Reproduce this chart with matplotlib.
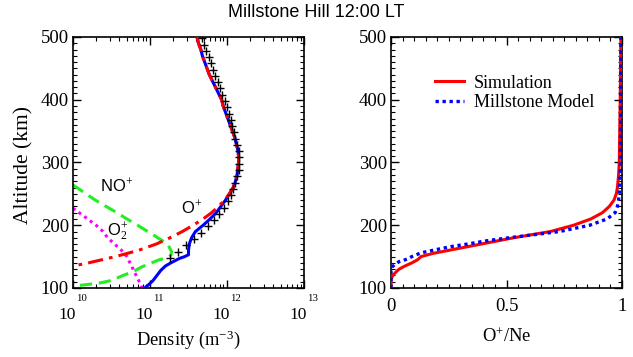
import matplotlib
matplotlib.use("Agg")
import matplotlib.pyplot as plt
import numpy as np
from matplotlib.ticker import FixedLocator, MultipleLocator, LogLocator, NullFormatter

# ---------------- data (log10 densities in m^-3, altitude in km) ----------------
alt_ne = [98, 105, 112, 120, 128, 135, 140, 147, 150, 153, 160, 170, 180, 190, 200, 210, 220,
          230, 240, 250, 260, 270, 280, 290, 300, 310, 320, 330, 340, 350, 360, 370, 380,
          390, 400, 410, 420, 430, 440, 450, 460, 470, 480, 490, 500]
log_ne = [10.91, 10.98, 11.04, 11.09, 11.14, 11.20, 11.27, 11.38, 11.45, 11.50, 11.50, 11.51,
          11.54, 11.59, 11.69, 11.78, 11.86, 11.92, 11.98, 12.03, 12.08, 12.11, 12.13, 12.14,
          12.15, 12.15, 12.14, 12.12, 12.10, 12.07, 12.04, 12.01, 11.98, 11.95, 11.93, 11.89,
          11.85, 11.81, 11.77, 11.74, 11.71, 11.68, 11.66, 11.63, 11.61]

alt_op = [130, 135, 140, 150, 160, 170, 180, 190, 200, 210, 220, 230, 240, 250, 260, 270, 280,
          290, 300, 310, 320, 330, 340, 350, 360, 370, 380, 390, 400, 410, 420, 430, 440, 450,
          460, 470, 480, 490, 500]
log_op = [9.80, 10.00, 10.20, 10.55, 10.85, 11.08, 11.26, 11.42, 11.56, 11.69, 11.80, 11.89,
          11.97, 12.03, 12.08, 12.11, 12.13, 12.14, 12.15, 12.15, 12.14, 12.12, 12.10, 12.07,
          12.04, 12.01, 11.98, 11.95, 11.93, 11.89, 11.85, 11.81, 11.77, 11.74, 11.71, 11.68,
          11.66, 11.63, 11.61]

alt_nop = [98, 103, 105, 108, 112, 120, 126, 134, 140, 145, 148, 152, 158, 165, 171, 180, 185,
           190, 200, 210, 220, 230, 240, 250, 260, 265]
log_nop = [9.85, 10.00, 10.15, 10.35, 10.50, 10.65, 10.78, 10.90, 11.02, 11.12, 11.22, 11.27,
           11.28, 11.25, 11.22, 11.10, 11.04, 10.97, 10.84, 10.70, 10.57, 10.43, 10.29, 10.17,
           10.05, 9.99]

alt_o2p = [99, 110, 120, 130, 140, 150, 160, 170, 180, 190, 200, 210, 220, 228]
log_o2p = [10.90, 10.86, 10.82, 10.78, 10.74, 10.70, 10.63, 10.54, 10.45, 10.39, 10.30, 10.19,
           10.08, 9.99]

alt_obs = [148, 158, 168, 178, 188, 198, 208, 218, 228, 238, 248, 258, 268, 278, 288, 298, 308,
           318, 328, 338, 348, 358, 368, 378, 388, 398, 408, 418, 428, 438, 448, 458, 468, 478,
           488, 498]
log_obs = [11.26, 11.37, 11.47, 11.57, 11.66, 11.75, 11.83, 11.90, 11.96, 12.01, 12.05, 12.08,
           12.11, 12.13, 12.15, 12.16, 12.16, 12.15, 12.13, 12.11, 12.09, 12.07, 12.05, 12.02,
           12.00, 11.97, 11.94, 11.91, 11.88, 11.85, 11.82, 11.79, 11.76, 11.73, 11.70, 11.68]

alt_ratio_sim = [100, 110, 115, 120, 125, 130, 135, 140, 145, 150, 155, 160, 170, 180, 190, 200,
                 210, 220, 230, 240, 250, 260, 280, 300, 350, 400, 500]
ratio_sim = [0.0, 0.0, 0.002, 0.008, 0.02, 0.035, 0.06, 0.09, 0.115, 0.13, 0.18, 0.25, 0.39,
             0.53, 0.69, 0.79, 0.865, 0.915, 0.945, 0.965, 0.975, 0.98, 0.985, 0.988, 0.99,
             0.992, 0.995]

alt_ratio_mod = [100, 120, 130, 133, 137, 142, 146, 150, 156, 160, 166, 170, 175, 180, 185, 190,
                 200, 210, 220, 230, 240, 260, 300, 500]
ratio_mod = [0.0, 0.0, 0.0, 0.003, 0.015, 0.035, 0.07, 0.09, 0.13, 0.18, 0.26, 0.33, 0.41, 0.51,
             0.62, 0.73, 0.86, 0.935, 0.97, 0.98, 0.985, 0.99, 0.993, 0.995]

xtick_exponents_left = [10, 11, 12, 13]
yticks = [100, 200, 300, 400, 500]
xticks_right = [0, 0.5, 1]
xtick_labels_right = ["0", "0.5", "1"]

# ---------------- style ----------------
plt.rcParams["mathtext.fontset"] = "custom"
plt.rcParams["mathtext.rm"] = "Liberation Serif"
plt.rcParams["mathtext.it"] = "Liberation Serif:italic"
serif = "Liberation Serif"
sans = "Liberation Sans"

fig = plt.figure(figsize=(6.33, 3.57), dpi=100)
ax1 = fig.add_axes([0.1153, 0.1933, 0.365, 0.7031])
ax2 = fig.add_axes([0.6177, 0.1933, 0.365, 0.7031])

RED = "#ff0000"
BLUE = "#0000ff"
GREEN = "#22ee22"
MAG = "#ff00ff"

def arr10(v):
    return [10.0 ** x for x in v]

# left panel
ax1.plot(arr10(log_ne), alt_ne, color=BLUE, lw=2.2, zorder=3)
ax1.plot(arr10(log_op), alt_op, color=RED, lw=2.2, ls=(0, (5, 2, 1.2, 2)), zorder=4)
ax1.plot(arr10(log_nop), alt_nop, color=GREEN, lw=2.2, ls=(0, (4, 2.2)), zorder=2)
ax1.plot(arr10(log_o2p), alt_o2p, color=MAG, lw=2.2, ls=(0, (1, 1.3)), zorder=2)
ax1.plot(arr10(log_obs), alt_obs, ls="none", marker="+", ms=6, mew=1.0, color="black", zorder=5)

ax1.set_xscale("log")
ax1.set_xlim(1e10, 1e13)
ax1.set_ylim(100, 500)
ax1.xaxis.set_major_locator(FixedLocator([10.0 ** e for e in xtick_exponents_left]))
ax1.xaxis.set_minor_locator(LogLocator(base=10, subs=np.arange(2, 10)))
ax1.xaxis.set_minor_formatter(NullFormatter())
ax1.xaxis.set_major_formatter(NullFormatter())
# power-of-ten tick labels: big "10" with small raised exponent
for e in xtick_exponents_left:
    ax1.annotate("10", xy=(10.0 ** e, 0), xycoords=("data", "axes fraction"),
                 xytext=(1.8, -13.5), textcoords="offset points", ha="right", va="top",
                 family=serif, fontsize=12.5, annotation_clip=False)
    ax1.annotate(str(e), xy=(10.0 ** e, 0), xycoords=("data", "axes fraction"),
                 xytext=(2.2, -11.0), textcoords="offset points", ha="left", va="bottom",
                 family=serif, fontsize=7.8, annotation_clip=False)

ax1.text(10 ** 10.35, 264, r"NO$^{+}$", family=sans, fontsize=12, ha="left", va="center")
ax1.text(10 ** 10.44, 190, r"O$_2^{+}$", family=sans, fontsize=12, ha="left", va="center")
ax1.text(10 ** 11.40, 228, r"O$^{+}$", family=sans, fontsize=12, ha="left", va="center")

ax1.set_xlabel(r"Density (m$^{-3}$)", family=serif, fontsize=13.3)
ax1.xaxis.set_label_coords(0.5, -0.16)
ax1.set_ylabel("Altitude (km)", family=serif, fontsize=15.5)
ax1.yaxis.set_label_coords(-0.17, 0.49)

# right panel
ax2.plot(ratio_sim, alt_ratio_sim, color=RED, lw=2.2, label="Simulation", zorder=3)
ax2.plot(ratio_mod, alt_ratio_mod, color=BLUE, lw=2.4, ls=(0, (1, 1.1)), label="Millstone Model", zorder=4)
ax2.set_xlim(0, 1)
ax2.set_ylim(100, 500)
ax2.set_xticks(xticks_right)
ax2.set_xticklabels(xtick_labels_right)
ax2.xaxis.set_minor_locator(MultipleLocator(0.05))
ax2.set_xlabel(r"O$^{+}$/Ne", family=serif, fontsize=13.3)
ax2.xaxis.set_label_coords(0.5, -0.155)
leg = ax2.legend(loc="upper left", bbox_to_anchor=(0.19, 0.85), frameon=False,
                 handlelength=1.6, handletextpad=0.55, labelspacing=0.15,
                 borderpad=0, borderaxespad=0,
                 prop={"family": serif, "size": 13})

for ax in (ax1, ax2):
    ax.set_yticks(yticks)
    ax.yaxis.set_minor_locator(MultipleLocator(10))
    ax.tick_params(which="both", direction="in", top=True, right=True)
    ax.tick_params(which="major", length=6, width=1.0)
    ax.tick_params(which="minor", length=3, width=0.8)
    for lab in ax.get_xticklabels() + ax.get_yticklabels():
        lab.set_family(serif)
        lab.set_fontsize(13.5)
    for s in ax.spines.values():
        s.set_linewidth(1.2)
ax2.tick_params(axis="x", pad=7)
ax1.tick_params(axis="y", pad=3)
ax2.tick_params(axis="y", pad=3)

fig.suptitle("Millstone Hill 12:00 LT", family=sans, fontsize=13, x=0.5, y=0.99)

fig.savefig("out.png", dpi=100)
